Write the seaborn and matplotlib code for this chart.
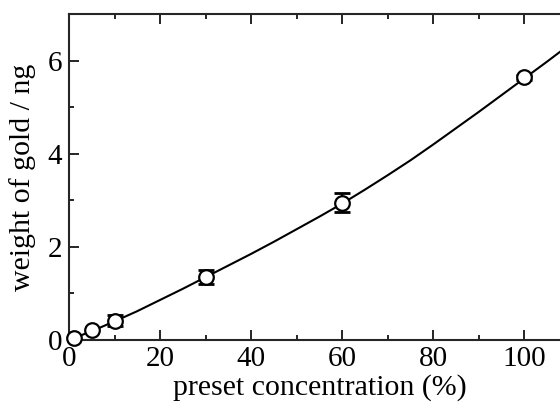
import matplotlib
matplotlib.use("Agg")
import matplotlib.pyplot as plt
import seaborn as sns
import pandas as pd
from matplotlib.ticker import MultipleLocator

# measured points (preset concentration %, weight of gold ng, error)
conc = [1, 5, 10, 30, 60, 100]
weight = [0.04, 0.22, 0.41, 1.36, 2.95, 5.64]
err = [0.0, 0.0, 0.12, 0.15, 0.2, 0.06]

# fitted curve
fit_x = [0, 5, 10, 15, 20, 25, 30, 35, 40, 45, 50, 55, 60,
         65, 70, 75, 80, 85, 90, 95, 100, 105, 110]
fit_y = [0.0, 0.19, 0.40, 0.62, 0.86, 1.10, 1.35, 1.60, 1.85, 2.11, 2.38, 2.65, 2.93,
         3.23, 3.54, 3.86, 4.20, 4.55, 4.90, 5.26, 5.62, 5.98, 6.35]

sns.set_style("ticks")
plt.rcParams['font.family'] = ['Liberation Serif', 'DejaVu Serif']

fig = plt.figure(figsize=(5.6, 4.03), dpi=100)
ax = fig.add_axes([69 / 560, 63 / 403, 501 / 560, 326 / 403])

fit = pd.DataFrame({'x': fit_x, 'y': fit_y})
pts = pd.DataFrame({'x': conc, 'y': weight, 'e': err})
bars = pts[pts['e'] > 0]

sns.lineplot(data=fit, x='x', y='y', ax=ax, color='black', linewidth=1.5, zorder=2)
ax.errorbar(bars['x'], bars['y'], yerr=bars['e'], fmt='none', ecolor='black',
            elinewidth=1.5, capsize=5.8, capthick=2, zorder=3)
ax.plot(pts['x'], pts['y'], 'o', markersize=10.5, markerfacecolor='white',
        markeredgecolor='black', markeredgewidth=1.6, zorder=4, clip_on=False)

ax.set_xlim(0, 110)
ax.set_ylim(0, 7)
ax.xaxis.set_major_locator(MultipleLocator(20))
ax.xaxis.set_minor_locator(MultipleLocator(10))
ax.yaxis.set_major_locator(MultipleLocator(2))
ax.yaxis.set_minor_locator(MultipleLocator(1))

for s in ax.spines.values():
    s.set_visible(True)
    s.set_linewidth(1.5)
ax.tick_params(which='both', direction='in', top=True, right=True,
               width=1.2, labelsize=21, color='black', labelcolor='black')
ax.tick_params(axis='x', pad=4.5)
ax.tick_params(axis='y', pad=5)
ax.tick_params(which='major', length=7.5)
ax.tick_params(which='minor', length=3.8)

ax.set_xlabel('preset concentration (%)', fontsize=21.5, labelpad=1, color='black')
ax.set_ylabel('weight of gold / ng', fontsize=21.5, labelpad=8, color='black')

fig.savefig('out.png', dpi=100)
